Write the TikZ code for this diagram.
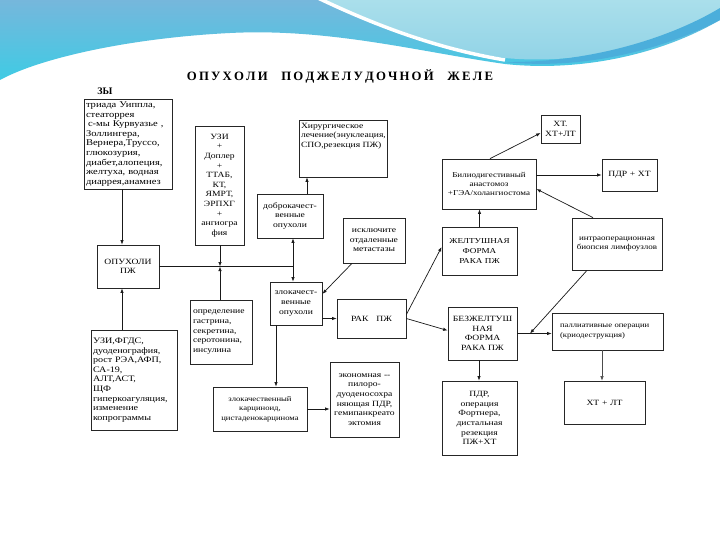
\documentclass[tikz,border=0pt]{standalone}
\usepackage{fontspec}
\setmainfont{Liberation Serif}
\newfontfamily\boxfont{Liberation Serif}[FakeStretch=1.2]
\usetikzlibrary{arrows.meta,calc}
\definecolor{bandtop}{HTML}{76B7DC}
\definecolor{bandbot}{HTML}{3FCBE4}
\definecolor{lightcy}{HTML}{AADFEB}
\definecolor{lightcy2}{HTML}{8FD2E6}
\definecolor{ribbon}{HTML}{4BAEDB}
\newcommand\ls{\kern2.2pt}
\newcommand\wg{\hspace{14pt}}
\begin{document}
\begin{tikzpicture}[x=1pt,y=-1pt,
  box/.style={draw=black!85,line width=0.75pt,fill=white,inner xsep=3pt,inner ysep=1pt,
    font=\boxfont\fontsize{8}{9.6}\selectfont},
  bigtxt/.style={font=\boxfont\fontsize{8.4}{9.6}\selectfont,inner xsep=2pt},
  smalltxt/.style={font=\boxfont\fontsize{7.5}{9.4}\selectfont},
  tinytxt/.style={font=\boxfont\fontsize{7.2}{9.4}\selectfont},
  arr/.style={draw=black!90,line width=0.7pt,-{Latex[length=4.5pt,width=3.4pt]}},
  arrtwo/.style={draw=black!90,line width=0.7pt,{Latex[length=4.5pt,width=3.4pt]}-{Latex[length=4.5pt,width=3.4pt]}},
  ln/.style={draw=black!90,line width=0.7pt}]
\useasboundingbox (0,0) rectangle (720,540);
\fill[white] (0,0) rectangle (720,540);
% decorative band
\shade[top color=bandtop,bottom color=bandbot]
  (0,0) -- (720,0) -- (720,20) .. controls (660,55) and (580,72) .. (505,64)
  .. controls (420,52) and (330,28) .. (230,33) .. controls (130,38) and (40,58) .. (0,80) -- cycle;
\shade[top color=lightcy,bottom color=lightcy2]
  (325,0) .. controls (390,30) and (450,50) .. (505,58) .. controls (590,66) and (670,40) .. (720,14) -- (720,0) -- cycle;
\draw[white,line width=3.5pt] (318,-2) .. controls (385,30) and (445,50) .. (505,60);
\fill[ribbon] (505,62) .. controls (590,71) and (670,46) .. (720,20) -- (720,8)
  .. controls (670,38) and (590,63) .. (505,62) -- cycle;

% title
\node[font=\bfseries\fontsize{13}{13}\selectfont,inner sep=0pt] (title) at (340,76)
  {\resizebox{306pt}{!}{О\ls П\ls У\ls Х\ls О\ls Л\ls И\wg П\ls О\ls Д\ls Ж\ls Е\ls Л\ls У\ls Д\ls О\ls Ч\ls Н\ls О\ls Й\wg Ж\ls Е\ls Л\ls Е}};
\node[font=\bfseries\fontsize{10}{10}\selectfont,inner sep=0pt] (zy) at (105,91) {ЗЫ};

% boxes
\node[box,bigtxt,font=\boxfont\fontsize{8.8}{9.6}\selectfont,text width=84pt,minimum height=90pt,align=left] (sym) at (128,144)
  {триада Уиппла,\\стеаторрея\\\hspace*{2pt}с-мы Курвуазье ,\\Золлингера,\\Вернера,Труссо,\\глюкозурия,\\диабет,алопеция,\\желтуха, водная\\диаррея,анамнез};
\node[box,text width=43pt,minimum height=119pt,align=center] (uzi) at (219.5,185.5)
  {УЗИ\\+\\Доплер\\+\\ТТАБ,\\КТ,\\ЯМРТ,\\ЭРПХГ\\+\\ангиогра\\фия};
\node[box,inner ysep=3pt,inner xsep=2pt] (surg) at (343,148.5)
  {\parbox[c][51pt][t]{84pt}{\raggedright Хирургическое\\лечение(энуклеация,\\СПО,резекция ПЖ)}};
\node[box,text width=60pt,minimum height=44pt,align=center] (benign) at (290,216)
  {доброкачест-\\венные\\опухоли};
\node[box,text width=56pt,minimum height=45pt,align=center] (excl) at (374,240.5)
  {исключите\\отдаленные\\метастазы};
\node[box,text width=56pt,minimum height=43pt,align=center] (tumor) at (128,266.5)
  {ОПУХОЛИ\\ПЖ};
\node[box,text width=46pt,minimum height=43pt,align=center] (malig) at (296,303.5)
  {злокачест-\\венные\\опухоли};
\node[box,text width=56pt,minimum height=64pt,align=left] (opred) at (221,332)
  {определение\\гастрина,\\секретина,\\серотонина,\\инсулина};
\node[box,bigtxt,text width=82pt,minimum height=100pt,align=left] (lowl) at (134,380)
  {УЗИ,ФГДС,\\дуоденография,\\рост РЭА,АФП,\\СА-19,\\АЛТ,АСТ,\\ЩФ\\гиперкоагуляция,\\изменение\\копрограммы};
\node[box,text width=63pt,minimum height=39pt,align=center] (rak) at (371.5,318.5)
  {РАК\quad ПЖ};
\node[box,tinytxt,text width=88pt,minimum height=44pt,align=center] (carc) at (260,409)
  {злокачественный\\карциноид,\\цистаденокарцинома};
\node[box,text width=63pt,minimum height=75pt,align=center] (econ) at (364.5,399.5)
  {экономная --\\пилоро-\\дуоденосохра\\няющая ПДР,\\гемипанкреато\\эктомия};
\node[box,smalltxt,text width=88pt,minimum height=50pt,align=center] (billio) at (489,184)
  {Билиодигестивный\\анастомоз\\+ГЭА/холангиостома};
\node[box,text width=33pt,minimum height=28pt,align=center] (xt) at (560.5,129)
  {ХТ.\\ХТ+ЛТ};
\node[box,text width=49pt,minimum height=32pt,align=center] (pdrxt) at (629.5,175)
  {ПДР + ХТ};
\node[box,font=\boxfont\fontsize{7.6}{9.6}\selectfont,text width=69pt,minimum height=48pt,align=center] (jelt) at (479.5,251)
  {ЖЕЛТУШНАЯ\\ФОРМА\\РАКА ПЖ};
\node[box,smalltxt,text width=84pt,minimum height=52pt,align=center] (intra) at (617,244)
  {интраоперационная\\биопсия лимфоузлов};
\node[box,text width=63pt,minimum height=53pt,align=center] (bezj) at (482.5,333.5)
  {БЕЗЖЕЛТУШ\\НАЯ\\ФОРМА\\РАКА ПЖ};
\node[box,tinytxt,text width=95pt,minimum height=37pt,align=left,inner xsep=8pt] (pall) at (607.5,331.5)
  {паллиативные операции\\(криодеструкция)};
\node[box,text width=69pt,minimum height=74pt,align=center] (pdr) at (479.5,418)
  {ПДР,\\операция\\Фортнера,\\дистальная\\резекция\\ПЖ+ХТ};
\node[box,text width=75pt,minimum height=43pt,align=center] (xtlt) at (604.5,402.5)
  {ХТ + ЛТ};

% helper x positions
\coordinate (xA) at (122,0);
\coordinate (xB) at (293,0);
\coordinate (xC) at (220,0);
\coordinate (xD) at (307,0);
\coordinate (xE) at (352,0);
\coordinate (xF) at (276,0);
\coordinate (xG) at (490,0);
\coordinate (xH) at (593,0);
\coordinate (xI) at (587,0);
\coordinate (xJ) at (530,0);
\coordinate (xK) at (479,0);
\coordinate (xL) at (602,0);

% connectors
\draw[arr] (sym.south -| xA) -- (tumor.north -| xA);
\draw[arr] (lowl.north -| xA) -- (tumor.south -| xA);
\draw[ln] (tumor.east) -- (tumor.east -| xB);
\draw[arr] (uzi.south -| xC) -- (tumor.east -| xC);
\draw[arr] (opred.north -| xC) -- (tumor.east -| xC);
\draw[arrtwo] (benign.south -| xB) -- (malig.north -| xB);
\draw[arr] (benign.north -| xD) -- (surg.south -| xD);
\draw[arr] (excl.south -| xE) -- (malig.20);
\draw[arr] (rak.west -| malig.east) -- (rak.west);
\draw[arr] (malig.south -| xF) -- (carc.north -| xF);
\draw[arr] (carc.east) -- (carc.east -| econ.west);
\draw[arr] ($(rak.east)+(0,-4)$) -- ($(jelt.west)+(0,-4)$);
\draw[arr] (rak.east) -- ($(bezj.west)+(0,-3)$);
\draw[arr] (jelt.north) -- (jelt.north |- billio.south);
\draw[arr] (billio.north -| xG) -- ($(xt.west)+(0,4)$);
\draw[arr] (pdrxt.west -| billio.east) -- (pdrxt.west);
\draw[arr] (intra.north -| xH) -- ($(billio.east)+(0,5)$);
\draw[arr] (bezj.east) -- (bezj.east -| pall.west);
\draw[arr] (intra.south -| xI) -- (bezj.east -| xJ);
\draw[arr] (bezj.south -| xK) -- (pdr.north -| xK);
\draw[arr,line width=0.5pt,draw=black!70] (pall.south -| xL) -- (xtlt.north -| xL);
\end{tikzpicture}
\end{document}
